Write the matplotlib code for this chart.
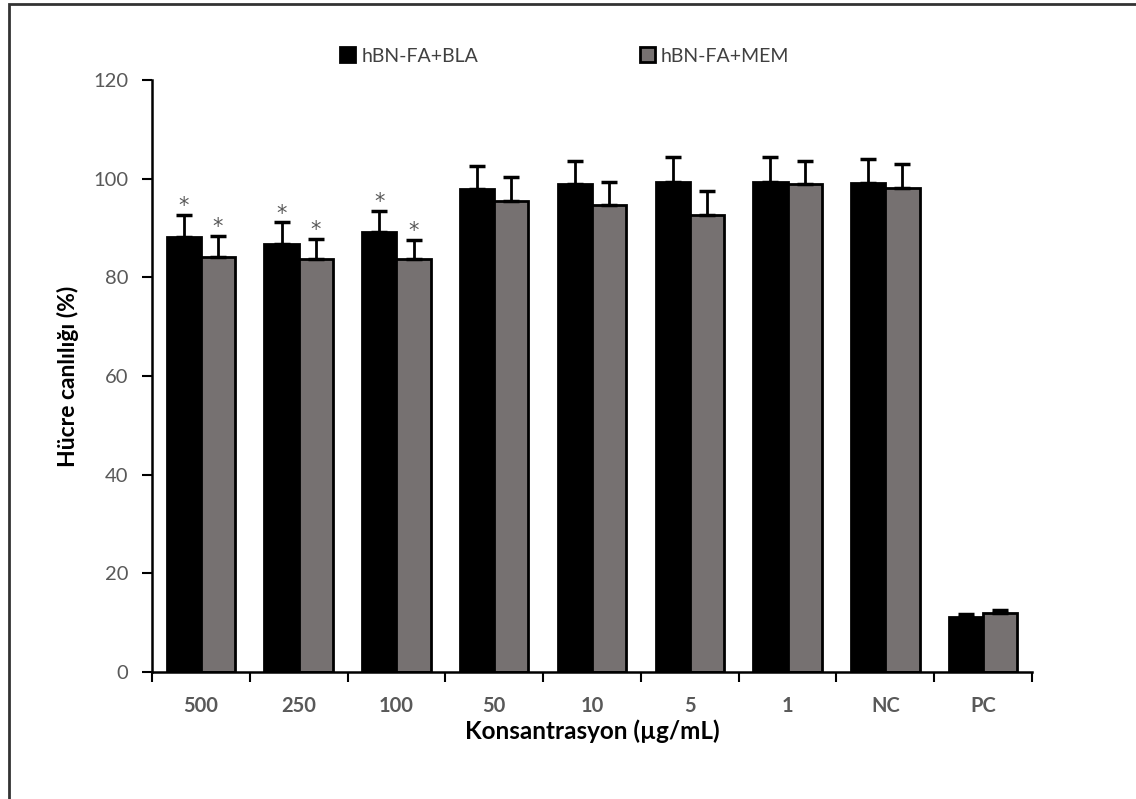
import numpy as np
import matplotlib
matplotlib.use('Agg')
import matplotlib.pyplot as plt
from matplotlib.patches import Rectangle
from matplotlib.ticker import FixedLocator

plt.rcParams['font.family'] = ['Lato', 'DejaVu Sans']

# concentrations and viability (%) for the two formulations
categories = ['500', '250', '100', '50', '10', '5', '1', 'NC', 'PC']
bla_mean = [88.2, 86.8, 89.2, 97.8, 98.8, 99.4, 99.4, 99.2, 11.2]
bla_err = [4.5, 4.3, 4.3, 4.7, 4.7, 5.0, 4.9, 4.8, 0.5]
mem_mean = [84.1, 83.6, 83.6, 95.5, 94.7, 92.7, 98.8, 98.0, 12.0]
mem_err = [4.3, 4.2, 4.0, 4.9, 4.7, 4.7, 4.7, 4.9, 0.6]
significant = [True, True, True, False, False, False, False, False, False]

series_names = ['hBN-FA+BLA', 'hBN-FA+MEM']
tick_gray = '#595959'

fig = plt.figure(figsize=(11.36, 7.99), dpi=100)
ax = fig.add_axes([0.1338, 0.159, 0.7747, 0.741])

x = np.arange(len(categories))
w = 0.35
b1 = ax.bar(x - w / 2, bla_mean, w, color='black', edgecolor='black', linewidth=2,
            label=series_names[0], zorder=2)
b2 = ax.bar(x + w / 2, mem_mean, w, color='#767171', edgecolor='black', linewidth=2,
            label=series_names[1], zorder=2)

# plus-only error bars
ax.errorbar(x - w / 2, bla_mean, yerr=[np.zeros(len(x)), bla_err], fmt='none',
            ecolor='black', elinewidth=2, capsize=6, capthick=2.5, zorder=3)
ax.errorbar(x + w / 2, mem_mean, yerr=[np.zeros(len(x)), mem_err], fmt='none',
            ecolor='black', elinewidth=2, capsize=6, capthick=2.5, zorder=3)

for i, sig in enumerate(significant):
    if sig:
        ax.text(x[i] - w / 2, bla_mean[i] + bla_err[i] - 0.3, '*', ha='center', va='bottom',
                fontsize=15, color=tick_gray, family='DejaVu Sans')
        ax.text(x[i] + w / 2, mem_mean[i] + mem_err[i] - 0.3, '*', ha='center', va='bottom',
                fontsize=15, color=tick_gray, family='DejaVu Sans')

ax.set_xlim(-0.5, len(categories) - 0.5)
ax.set_ylim(0, 120)
ax.set_yticks(np.arange(0, 121, 20))
ax.set_xticks(x)
ax.set_xticklabels(categories, fontsize=14.5, fontweight='bold', color=tick_gray)
ax.xaxis.set_minor_locator(FixedLocator(np.arange(-0.5, len(categories), 1.0)))
ax.tick_params(axis='x', which='major', length=0, pad=17)
ax.tick_params(axis='x', which='minor', length=7, width=1.5, color='black', direction='out')
ax.tick_params(axis='y', length=7, width=1.5, direction='out', labelsize=14.5,
               labelcolor=tick_gray, pad=10)

for side in ['top', 'right']:
    ax.spines[side].set_visible(False)
for side in ['left', 'bottom']:
    ax.spines[side].set_linewidth(1.8)

ax.set_xlabel('Konsantrasyon (µg/mL)', fontsize=17.5, fontweight='bold', labelpad=3)
ax.set_ylabel('Hücre canlılığı (%)', fontsize=16.5, fontweight='bold', labelpad=10)

leg = fig.legend(handles=[b1, b2], loc='center', bbox_to_anchor=(0.497, 0.93), ncol=2,
                 frameon=False, fontsize=14, handlelength=0.8, handleheight=0.8,
                 handletextpad=0.3, columnspacing=8.3)
for t in leg.get_texts():
    t.set_color('#404040')

# outer frame around the figure
fig.patches.append(Rectangle((0.008, -0.1), 1.2, 1.095, transform=fig.transFigure,
                             fill=False, edgecolor='#333333', linewidth=2))

fig.savefig('out.png', dpi=100)
